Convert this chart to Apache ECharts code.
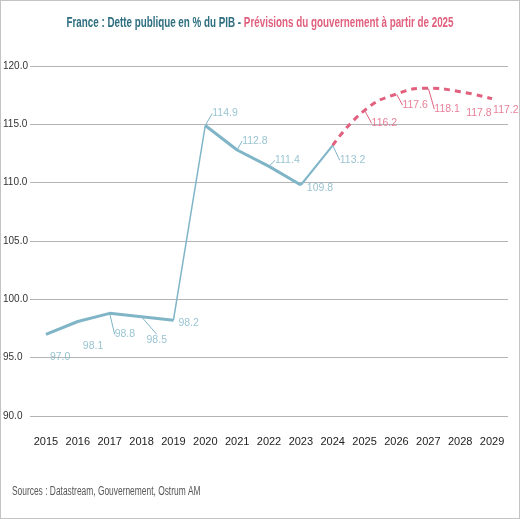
<!DOCTYPE html>
<html>
<head>
<meta charset="utf-8">
<script src="https://cdn.jsdelivr.net/npm/echarts@6/dist/echarts.min.js"></script>
<style>
html,body{margin:0;padding:0;background:#fff;}
#frame{width:520px;height:519px;box-sizing:border-box;border:1px solid #c4c4c4;position:relative;overflow:hidden;}
#chart{position:absolute;left:-1px;top:-1px;width:520px;height:519px;}
</style>
</head>
<body>
<div id="frame"><div id="chart"></div></div>
<script>
var categories = ['2015','2016','2017','2018','2019','2020','2021','2022','2023','2024','2025','2026','2027','2028','2029'];
var values = [97.0, 98.1, 98.8, 98.5, 98.2, 114.9, 112.8, 111.4, 109.8, 113.2, 116.2, 117.6, 118.1, 117.8, 117.2];
var yTicks = [90, 95, 100, 105, 110, 115, 120];
var lastHistIndex = 9;      // 2024
var firstForecastIndex = 9; // forecast curve starts from 2024

var TEAL = '#7fb5c7';
var PINK = '#e0607e';
var FONT = '"Liberation Sans Narrow", "Liberation Sans", Arial, sans-serif';

// label placement (dx, dy from the point)
var labelOffsets = [[4,23],[5,25],[5,21],[5,23],[5,3],[7,-12],[5,-9],[6,-6],[6,3],[7,15],[7,13],[6,11],[6,21],[6,21],[1,11]];
var leaders = [false,false,true,true,false,true,true,true,false,true,true,true,true,false,false];

function seg(a, b) {
  return values.map(function (v, i) { return (i >= a && i <= b) ? v : null; });
}

var chart = echarts.init(document.getElementById('chart'), null, {renderer: 'canvas'});
chart.setOption({
  animation: false,
  backgroundColor: '#fff',
  graphic: [
    {
      type: 'text', x: 260, y: 23, scaleX: 0.655, scaleY: 1,
      style: {
        text: '{a|France : Dette publique en % du PIB - }{b|Prévisions du gouvernement à partir de 2025}',
        align: 'center', verticalAlign: 'middle',
        rich: {
          a: {fill: '#2f6f80', fontWeight: 'bold', fontSize: 15, fontFamily: FONT},
          b: {fill: PINK, fontWeight: 'bold', fontSize: 15, fontFamily: FONT}
        }
      }
    },
    {
      type: 'text', x: 12, y: 492, scaleX: 0.7, scaleY: 1,
      style: {text: 'Sources : Datastream, Gouvernement, Ostrum AM', fill: '#555',
        font: '12px ' + FONT, align: 'left', verticalAlign: 'middle'}
    }
  ],
  grid: {left: 30, right: 12, top: 66, bottom: 103, containLabel: false, outerBoundsMode: 'none'},
  xAxis: {
    type: 'category',
    data: categories,
    boundaryGap: true,
    axisLine: {show: false},
    axisTick: {show: false},
    axisLabel: {color: '#222', fontSize: 11, fontFamily: FONT, margin: 20, interval: 0}
  },
  yAxis: {
    type: 'value',
    min: yTicks[0],
    max: yTicks[yTicks.length - 1],
    interval: 5,
    axisLine: {show: false},
    axisTick: {show: false},
    splitLine: {lineStyle: {color: '#b4b4b4', width: 1}},
    axisLabel: {color: '#333', fontSize: 10, fontFamily: FONT, margin: 27, align: 'left',
      formatter: function (v) { return v.toFixed(1); }}
  },
  series: [
    {type: 'line', data: seg(0, 4), symbol: 'none', lineStyle: {color: TEAL, width: 3}, z: 3},
    {type: 'line', data: seg(4, 5), symbol: 'none', lineStyle: {color: TEAL, width: 1.5}, z: 3},
    {type: 'line', data: seg(5, 8), symbol: 'none', lineStyle: {color: TEAL, width: 3}, z: 3},
    {type: 'line', data: seg(8, lastHistIndex), symbol: 'none', lineStyle: {color: TEAL, width: 2}, z: 3},
    {type: 'line', data: seg(firstForecastIndex, values.length - 1), symbol: 'none', smooth: 0.5,
      lineStyle: {color: PINK, width: 3, type: [6, 5]}, z: 4},
    {
      type: 'scatter',
      symbolSize: 1,
      itemStyle: {color: 'rgba(0,0,0,0)'},
      z: 5,
      data: values.map(function (v, i) {
        var c = i <= lastHistIndex ? TEAL : PINK;
        return {
          value: v,
          label: {color: c},
          labelLine: {show: leaders[i], lineStyle: {color: c, width: 1}}
        };
      }),
      label: {
        show: true,
        position: 'inside',
        align: 'left',
        verticalAlign: 'middle',
        fontSize: 10.5,
        fontFamily: FONT,
        formatter: function (p) { return p.value.toFixed(1); }
      },
      labelLine: {length2: 0, smooth: false},
      labelLayout: function (p) {
        var o = labelOffsets[p.dataIndex];
        return {dx: o[0], dy: o[1]};
      }
    }
  ]
});
</script>
</body>
</html>
